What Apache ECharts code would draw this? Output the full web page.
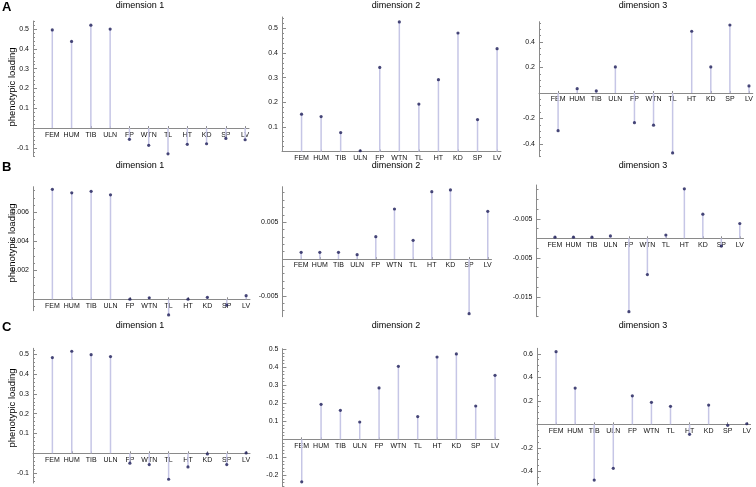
<!DOCTYPE html>
<html>
<head>
<meta charset="utf-8">
<script src="https://cdn.jsdelivr.net/npm/echarts@6/dist/echarts.min.js"></script>
<style>
  html, body { margin: 0; padding: 0; background: #fff; }
  #chart { width: 756px; height: 487px; }
</style>
</head>
<body>
<div id="chart"></div>
<script>
// traits along the x axis
var categories = ['FEM', 'HUM', 'TIB', 'ULN', 'FP', 'WTN', 'TL', 'HT', 'KD', 'SP', 'LV'];

// phenotypic loadings, row A
var loadA1 = [0.496, 0.438, 0.52, 0.5, -0.057, -0.087, -0.13, -0.082, -0.079, -0.052, -0.059];
var loadA2 = [0.152, 0.142, 0.077, 0.003, 0.342, 0.527, 0.193, 0.292, 0.482, 0.130, 0.418];
var loadA3 = [-0.296, 0.034, 0.016, 0.204, -0.233, -0.253, -0.47, 0.484, 0.204, 0.533, 0.055];
// row B
var loadB1 = [0.00759, 0.00735, 0.00745, 0.00721, 0.00001, 0.0001, -0.00108, 0.00001, 0.00014, -0.0004, 0.00025];
var loadB2 = [0.00091, 0.00091, 0.00091, 0.00059, 0.00303, 0.00679, 0.00254, 0.00915, 0.00938, -0.00743, 0.00648];
var loadB3 = [0.0003, 0.0003, 0.0003, 0.0006, -0.0188, -0.0093, 0.00085, 0.0127, 0.0062, -0.002, 0.0038];
// row C
var loadC1 = [0.483, 0.515, 0.498, 0.488, -0.05, -0.057, -0.131, -0.069, -0.003, -0.057, 0.002];
var loadC2 = [-0.236, 0.194, 0.161, 0.096, 0.285, 0.405, 0.126, 0.457, 0.474, 0.185, 0.355];
var loadC3 = [0.618, 0.309, -0.474, -0.374, 0.243, 0.187, 0.153, -0.085, 0.164, -0.008, 0.005];

// labelled y ticks
var ticksA1 = [0.5, 0.4, 0.3, 0.2, 0.1, -0.1];
var ticksA2 = [0.5, 0.4, 0.3, 0.2, 0.1];
var ticksA3 = [0.4, 0.2, -0.2, -0.4];
var ticksB1 = [0.006, 0.004, 0.002];
var ticksB2 = [0.005, -0.005];
var ticksB3 = [0.005, -0.005, -0.015];
var tickTextB3 = ['-0.005', '-0.005', '-0.015'];   // as printed in the figure
var ticksC1 = [0.5, 0.4, 0.3, 0.2, 0.1, -0.1];
var ticksC2 = [0.5, 0.4, 0.3, 0.2, 0.1, -0.1, -0.2];
var ticksC3 = [0.6, 0.4, 0.2, -0.2, -0.4];

var titles = ['dimension 1', 'dimension 2', 'dimension 3'];
var rowLetters = ['A', 'B', 'C'];
var yName = 'phenotypic loading';

var FONT = "'Liberation Sans', Arial, sans-serif";
var AXIS = '#8a8a8a';

// one entry per panel: where it sits and its y range
var panels = [
  { vals: loadA1, ticks: ticksA1, left: 33,    top: 21,    width: 216, height: 135,   min: -0.141,   max: 0.541,   minor: 0.02 },
  { vals: loadA2, ticks: ticksA2, left: 282,   top: 17,    width: 219, height: 134.5, min: 0,        max: 0.547,   minor: 0.02 },
  { vals: loadA3, ticks: ticksA3, left: 539,   top: 21.7,  width: 214, height: 135,   min: -0.5,     max: 0.559,   minor: 0.05 },
  { vals: loadB1, ticks: ticksB1, left: 33,    top: 186.7, width: 217, height: 124,   min: -0.000786, max: 0.00777, minor: 0.0005 },
  { vals: loadB2, ticks: ticksB2, left: 282.5, top: 186.7, width: 209, height: 130,   min: -0.00784, max: 0.00982, minor: 0.001 },
  { vals: loadB3, ticks: ticksB3, text: tickTextB3, left: 536.5, top: 185, width: 207, height: 131.7, min: -0.0201, max: 0.01367, minor: 0.0025 },
  { vals: loadC1, ticks: ticksC1, left: 33,    top: 348.3, width: 217, height: 134.7, min: -0.15,    max: 0.53,    minor: 0.02 },
  { vals: loadC2, ticks: ticksC2, left: 282.4, top: 348.7, width: 216.5, height: 138, min: -0.263,   max: 0.503,   minor: 0.02 },
  { vals: loadC3, ticks: ticksC3, left: 537,   top: 348.3, width: 213.6, height: 136.7, min: -0.516, max: 0.647,   minor: 0.05 }
];

var xPos = categories.map(function (c, i) { return i + 1; });

function minorTicks(p) {
  var out = [];
  var k0 = Math.ceil(p.min / p.minor - 1e-9), k1 = Math.floor(p.max / p.minor + 1e-9);
  for (var k = k0; k <= k1; k++) out.push(+(k * p.minor).toFixed(6));
  return out;
}

var grid = [], xAxis = [], yAxis = [], series = [];
panels.forEach(function (p, i) {
  grid.push({ left: p.left, top: p.top, width: p.width, height: p.height });
  // lift the category axis (line, ticks and labels) up to y = 0
  var zeroOffset = -p.height * (0 - p.min) / (p.max - p.min);
  xAxis.push({
    gridIndex: i, type: 'value', min: 0, max: 11.2,
    position: 'bottom', offset: zeroOffset,
    axisLine: { onZero: false, lineStyle: { color: AXIS, width: 1 } },
    axisTick: { inside: true, length: 2, customValues: xPos, lineStyle: { color: AXIS } },
    axisLabel: {
      customValues: xPos, margin: 3, fontSize: 7, color: '#111', fontFamily: FONT,
      formatter: function (v) { return categories[Math.round(v) - 1] || ''; }
    },
    splitLine: { show: false }
  });
  yAxis.push({
    gridIndex: i, type: 'value', position: 'left', min: p.min, max: p.max,
    axisLine: { onZero: false, lineStyle: { color: AXIS, width: 1 } },
    axisTick: { inside: true, length: 4, customValues: p.ticks, lineStyle: { color: AXIS } },
    axisLabel: {
      customValues: p.ticks, margin: 4, fontSize: 7, color: '#111', fontFamily: FONT,
      formatter: function (v) {
        var idx = p.ticks.indexOf(v);
        if (p.text && idx >= 0) return p.text[idx];
        return String(+v.toFixed(4));
      }
    },
    splitLine: { show: false }
  });
  yAxis.push({
    gridIndex: i, type: 'value', position: 'left', min: p.min, max: p.max,
    axisLine: { show: false, onZero: false },
    axisTick: { inside: true, length: 2, customValues: minorTicks(p), lineStyle: { color: AXIS } },
    axisLabel: { show: false },
    splitLine: { show: false }
  });
  var pts = p.vals.map(function (v, k) { return [k + 1, v]; });
  series.push({
    type: 'bar', xAxisIndex: i, yAxisIndex: 2 * i, data: pts,
    barWidth: 1.5, clip: false, silent: true,
    itemStyle: { color: '#c6c6e6' }
  });
  series.push({
    type: 'scatter', xAxisIndex: i, yAxisIndex: 2 * i, data: pts,
    symbolSize: 3.2, clip: false, silent: true,
    itemStyle: { color: '#1c1c58' }
  });
});

// titles, row letters and the y axis name
var graphic = [];
var colX = [140, 396, 643];
var rowTitleY = [6, 166, 326];
var rowNameY = [87, 243, 408];
var rowLetterY = [1, 161, 321];
rowLetters.forEach(function (letter, r) {
  graphic.push({ type: 'text', left: 2, top: rowLetterY[r],
    style: { text: letter, fontSize: 13, fontWeight: 'bold', fontFamily: FONT, fill: '#000' } });
  graphic.push({ type: 'text', x: 12, y: rowNameY[r], rotation: Math.PI / 2,
    style: { text: yName, fontSize: 9.5, fontFamily: FONT, fill: '#000',
      align: 'center', verticalAlign: 'middle', textAlign: 'center', textVerticalAlign: 'middle' } });
  titles.forEach(function (t, c) {
    graphic.push({ type: 'text', x: colX[c], y: rowTitleY[r],
      style: { text: t, fontSize: 9, fontFamily: FONT, fill: '#000',
        align: 'center', verticalAlign: 'middle', textAlign: 'center', textVerticalAlign: 'middle' } });
  });
});

var chart = echarts.init(document.getElementById('chart'));
chart.setOption({
  animation: false,
  backgroundColor: '#fff',
  grid: grid,
  xAxis: xAxis,
  yAxis: yAxis,
  series: series,
  graphic: graphic
});
</script>
</body>
</html>
